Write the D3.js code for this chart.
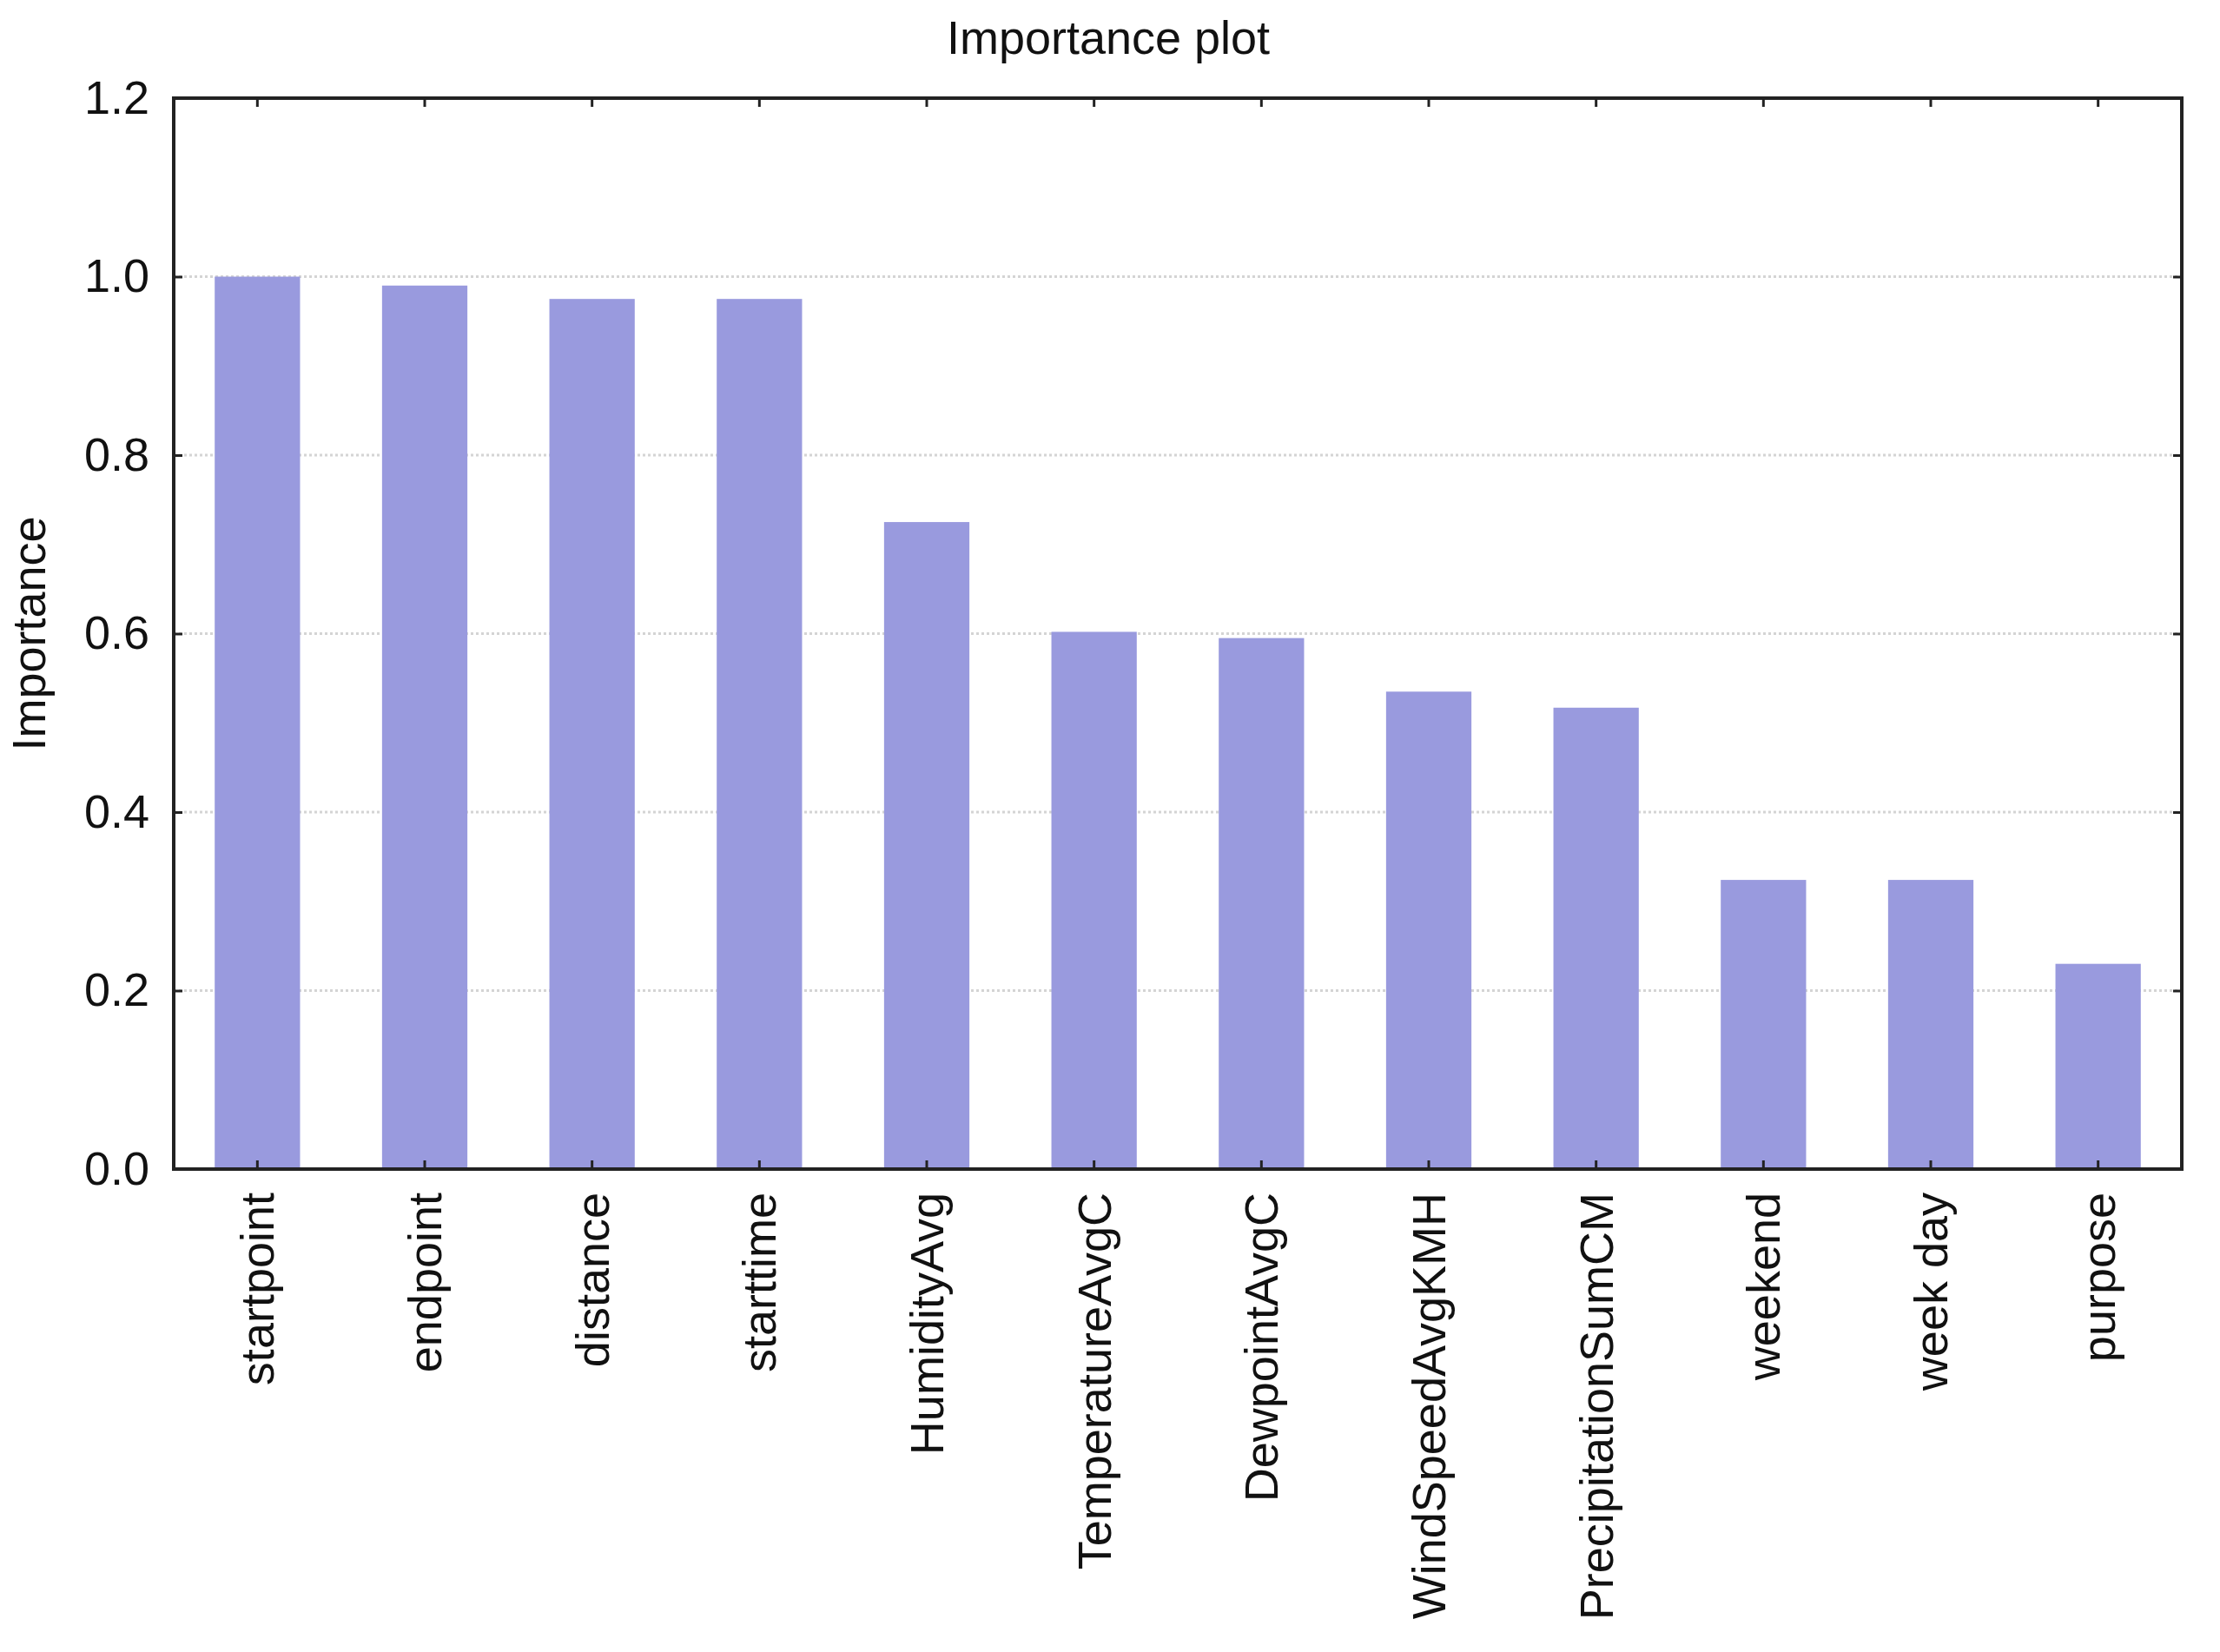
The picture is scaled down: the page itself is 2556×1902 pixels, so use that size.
<!DOCTYPE html>
<html>
<head>
<meta charset="utf-8">
<script src="https://cdn.jsdelivr.net/npm/d3@7"></script>
<style>
  html, body { margin: 0; padding: 0; background: #fff; }
  svg { display: block; }
  text { font-family: "Liberation Sans", Arial, sans-serif; fill: #111; }
</style>
</head>
<body>
<svg id="chart" width="2556" height="1902"></svg>
<script>
const categories = ["startpoint", "endpoint", "distance", "starttime", "HumidityAvg",
  "TemperatureAvgC", "DewpointAvgC", "WindSpeedAvgKMH", "PrecipitationSumCM",
  "weekend", "week day", "purpose"];
const importance = [1.0, 0.99, 0.975, 0.975, 0.725, 0.602, 0.595, 0.535, 0.517, 0.324, 0.324, 0.230];
const yTicks = [0.0, 0.2, 0.4, 0.6, 0.8, 1.0, 1.2];
const gridTicks = [0.2, 0.4, 0.6, 0.8, 1.0];
const titleText = "Importance plot";
const yTitle = "Importance";

const W = 2556, H = 1902;
const m = { left: 200, right: W - 2512, top: 113, bottom: H - 1346 };
const pw = W - m.left - m.right, ph = H - m.top - m.bottom;
const FS = 54;

const svg = d3.select("#chart");
const g = svg.append("g").attr("transform", `translate(${m.left},${m.top})`);

const x = d3.scaleBand().domain(categories).range([0, pw]).padding(0);
const y = d3.scaleLinear().domain([0, 1.2]).range([ph, 0]);
const barW = x.bandwidth() * 0.51;

// gridlines
g.append("g").selectAll("line").data(gridTicks).join("line")
  .attr("x1", 0).attr("x2", pw)
  .attr("y1", d => y(d)).attr("y2", d => y(d))
  .attr("stroke", "#d4d4d4").attr("stroke-width", 3)
  .attr("stroke-dasharray", "3,3");

// bars
g.append("g").selectAll("rect").data(categories).join("rect")
  .attr("x", d => x(d) + (x.bandwidth() - barW) / 2)
  .attr("width", barW)
  .attr("y", (d, i) => y(importance[i]))
  .attr("height", (d, i) => y(0) - y(importance[i]))
  .attr("fill", "#999ade");

// axes with inward ticks
const tickLen = 10;
const yAxisL = d3.axisLeft(y).tickValues(yTicks).tickSizeInner(-tickLen).tickSizeOuter(0).tickPadding(28)
  .tickFormat(d3.format(".1f"));
const yl = g.append("g").call(yAxisL);
yl.select(".domain").remove();
yl.selectAll(".tick line").attr("stroke", "#222").attr("stroke-width", 3);
yl.selectAll(".tick text").attr("font-size", FS).attr("fill", "#111")
  .attr("font-family", "Liberation Sans, Arial, sans-serif");

const yAxisR = d3.axisRight(y).tickValues(yTicks).tickSizeInner(-tickLen).tickSizeOuter(0).tickFormat("");
const yr = g.append("g").attr("transform", `translate(${pw},0)`).call(yAxisR);
yr.select(".domain").remove();
yr.selectAll(".tick line").attr("stroke", "#222").attr("stroke-width", 3);

const xAxisB = d3.axisBottom(x).tickSizeInner(-tickLen).tickSizeOuter(0).tickPadding(0);
const xb = g.append("g").attr("transform", `translate(0,${ph})`).call(xAxisB);
xb.select(".domain").remove();
xb.selectAll(".tick line").attr("stroke", "#222").attr("stroke-width", 3);
xb.selectAll(".tick text")
  .attr("font-size", FS).attr("fill", "#111")
  .attr("font-family", "Liberation Sans, Arial, sans-serif")
  .attr("text-anchor", "end")
  .attr("transform", "rotate(-90)")
  .attr("x", -27).attr("y", 0).attr("dy", "0.35em");

const xAxisT = d3.axisTop(x).tickSizeInner(-tickLen).tickSizeOuter(0).tickFormat("");
const xt = g.append("g").call(xAxisT);
xt.select(".domain").remove();
xt.selectAll(".tick line").attr("stroke", "#222").attr("stroke-width", 3);

// frame
g.append("rect").attr("x", 0).attr("y", 0).attr("width", pw).attr("height", ph)
  .attr("fill", "none").attr("stroke", "#222").attr("stroke-width", 4);

// titles
svg.append("text").attr("x", 1276).attr("y", 62).attr("text-anchor", "middle")
  .attr("font-size", FS).text(titleText);

svg.append("text").attr("transform", `translate(52,${m.top + ph / 2}) rotate(-90)`)
  .attr("text-anchor", "middle").attr("font-size", FS).text(yTitle);
</script>
</body>
</html>
